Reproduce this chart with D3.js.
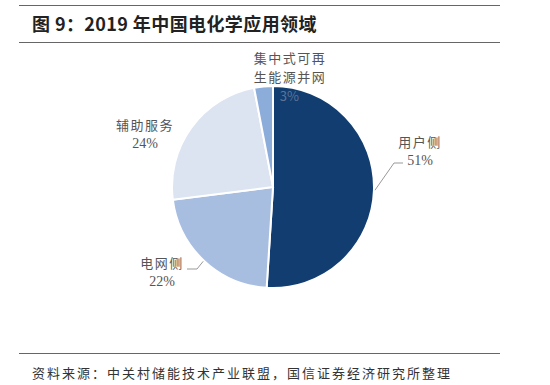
<!DOCTYPE html>
<html lang="zh">
<head>
<meta charset="UTF-8">
<title>2019 年中国电化学应用领域</title>
<script src="https://d3js.org/d3.v7.min.js"></script>
<style>
  body { margin: 0; background: #fff; }
  svg text { font-family: "Noto Sans CJK SC", sans-serif; }
</style>
</head>
<body>
<div id="chart"></div>
<script>
// data
const categories = ["用户侧", "电网侧", "辅助服务", "集中式可再生能源并网"];
const values = [51, 22, 24, 3];
const pctLabels = ["51%", "22%", "24%", "3%"];
const colors = ["#113d71", "#a8bee1", "#dce3f1", "#8cacda"];

const W = 550, H = 385;
const cx = 273, cy = 187, R = 101;

const svg = d3.select("#chart").append("svg")
  .attr("width", W).attr("height", H);

// header rules + title
svg.append("line").attr("x1", 19).attr("x2", 500).attr("y1", 5.5).attr("y2", 5.5)
  .attr("stroke", "#666").attr("stroke-width", 1.2);
svg.append("line").attr("x1", 19).attr("x2", 500).attr("y1", 42.5).attr("y2", 42.5)
  .attr("stroke", "#666").attr("stroke-width", 1.2);
svg.append("text").attr("x", 32).attr("y", 31)
  .attr("font-size", 18).attr("font-weight", 700).attr("fill", "#222")
  .attr("letter-spacing", 0.4)
  .text("图 9：2019 年中国电化学应用领域");

// footer
svg.append("line").attr("x1", 19).attr("x2", 500).attr("y1", 353.5).attr("y2", 353.5)
  .attr("stroke", "#666").attr("stroke-width", 1.2);
svg.append("text").attr("x", 32).attr("y", 378)
  .attr("font-size", 13).attr("fill", "#333")
  .attr("textLength", 418).attr("lengthAdjust", "spacing")
  .text("资料来源：中关村储能技术产业联盟，国信证券经济研究所整理");

// pie
const pie = d3.pie().sort(null).value(d => d)(values);
const arc = d3.arc().innerRadius(0).outerRadius(R);
const g = svg.append("g").attr("transform", `translate(${cx},${cy})`);

g.selectAll("path.slice")
  .data(pie)
  .join("path")
    .attr("class", "slice")
    .attr("d", arc)
    .attr("fill", (d, i) => colors[i])
    .attr("stroke", "#fff")
    .attr("stroke-width", 2);

// label placement (relative to pie centre)
const labelPos = [
  { x: 147, y: -40, lead: [[121, -24], [130, -24]] },
  { x: -111, y: 81, lead: [[-76, 82], [-86, 82]] },
  { x: -128, y: -57, lead: null },
  { x: 17, y: -124, inner: true, dx: 25 }
];
const lineH = 18;

pie.forEach((d, i) => {
  const p = labelPos[i];
  const a = (d.startAngle + d.endAngle) / 2;
  if (p.lead) {
    const start = [Math.sin(a) * (R + 1), -Math.cos(a) * (R + 1)];
    g.append("path")
      .attr("d", d3.line()([start, ...p.lead]))
      .attr("fill", "none").attr("stroke", "#999").attr("stroke-width", 1);
  }
  const t = g.append("text")
    .attr("text-anchor", "middle")
    .attr("font-size", 13).attr("fill", "#555");
  if (p.inner) {
    // two-line category label above pie, pct inside slice
    t.append("tspan").attr("x", p.x).attr("y", p.y).attr("letter-spacing", 1.5)
      .text(categories[i].slice(0, 5));
    t.append("tspan").attr("x", p.x).attr("y", p.y + lineH + 1).attr("letter-spacing", 1.5)
      .text(categories[i].slice(5));
    const c = [Math.sin(a) * (R - 10), -Math.cos(a) * (R - 10)];
    g.append("text").attr("x", c[0] + p.dx).attr("y", c[1] + 5)
      .attr("text-anchor", "middle")
      .attr("font-family", "Liberation Serif, serif")
      .attr("font-size", 13).attr("fill", "#5f7394")
      .text(pctLabels[i]);
  } else {
    t.append("tspan").attr("x", p.x).attr("y", p.y).attr("letter-spacing", 1.5)
      .text(categories[i]);
    t.append("tspan").attr("x", p.x).attr("y", p.y + lineH)
      .attr("font-family", "Liberation Serif, serif").attr("font-size", 14)
      .text(pctLabels[i]);
  }
});
</script>
</body>
</html>
